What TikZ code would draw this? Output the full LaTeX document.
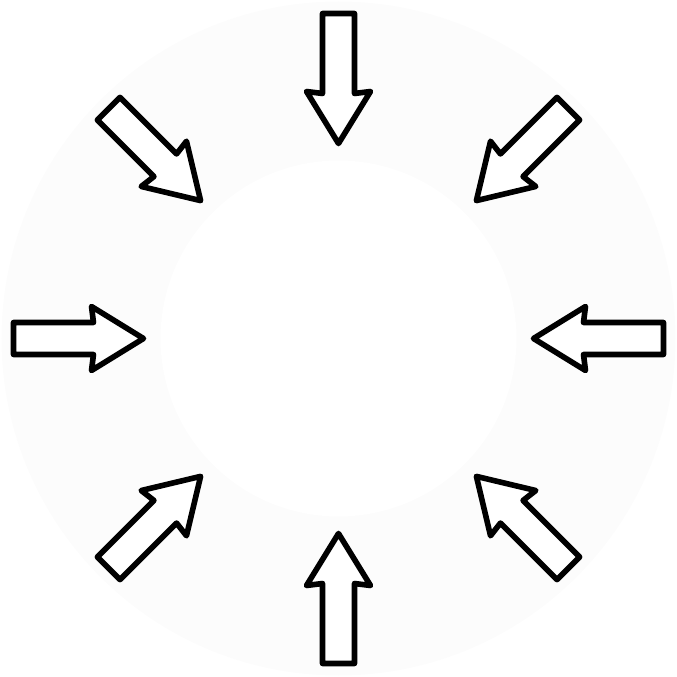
\documentclass[tikz,border=0pt]{standalone}
\begin{document}
\begin{tikzpicture}[x=1pt,y=1pt,
  sketch/.style={draw=black, line width=5.6pt, line join=round, fill=white},
  inarrow/.pic={
    \draw[sketch] (325,16) -- (245,16) -- (247,32) -- (195,0) -- (247,-32) -- (245,-16) -- (325,-16) -- cycle;
  }]
\useasboundingbox (-338.5,-338.5) rectangle (338.5,338.5);
\fill[black!1] (0,0) circle (337);
\fill[white] (0,0) circle (178);
\foreach \a in {0,45,90,135,180,225,270,315}
  \pic[rotate=\a] {inarrow};
\end{tikzpicture}
\end{document}
